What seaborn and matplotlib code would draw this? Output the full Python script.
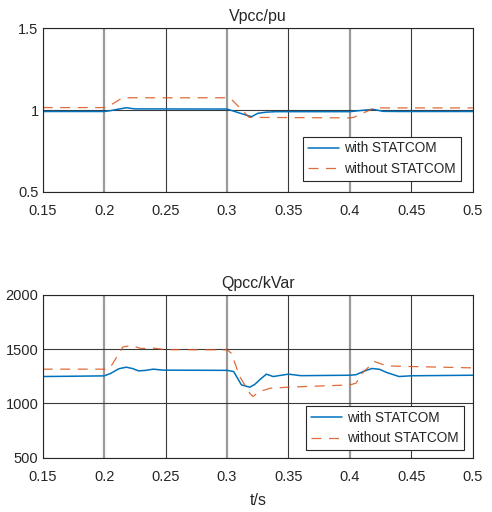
import pandas as pd
import seaborn as sns
import matplotlib.pyplot as plt

# Vpcc (pu)
t_v_with = [0.15, 0.2, 0.205, 0.212, 0.218, 0.225, 0.3, 0.31, 0.32, 0.325, 0.332, 0.34,
            0.4, 0.41, 0.419, 0.427, 0.44, 0.5]
v_with = [0.991, 0.991, 0.996, 1.006, 1.014, 1.007, 1.006, 0.982, 0.959, 0.98, 0.987, 0.99,
          0.99, 0.998, 1.004, 0.992, 0.991, 0.991]
t_v_without = [0.15, 0.2, 0.203, 0.215, 0.3, 0.303, 0.318, 0.4, 0.403, 0.42, 0.5]
v_without = [1.015, 1.015, 1.02, 1.075, 1.075, 1.07, 0.955, 0.952, 0.955, 1.013, 1.013]

# Qpcc (kVar)
t_q_with = [0.15, 0.2, 0.205, 0.212, 0.218, 0.223, 0.228, 0.234, 0.24, 0.248, 0.3, 0.3054,
            0.3117, 0.3185, 0.3225, 0.3266, 0.332, 0.3375, 0.35, 0.36, 0.4, 0.405, 0.412,
            0.418, 0.424, 0.43, 0.44, 0.45, 0.5]
q_with = [1248, 1254, 1275, 1320, 1334, 1322, 1300, 1305, 1316, 1307, 1305, 1294,
          1171, 1150, 1175, 1218, 1270, 1248, 1270, 1256, 1260, 1265, 1300,
          1322, 1315, 1285, 1248, 1255, 1260]
t_q_without = [0.15, 0.2, 0.205, 0.2152, 0.222, 0.23, 0.24, 0.25, 0.3, 0.3035, 0.3103,
               0.3185, 0.321, 0.3266, 0.335, 0.35, 0.4, 0.405, 0.41, 0.42, 0.43, 0.45, 0.5]
q_without = [1316, 1316, 1331, 1520, 1534, 1506, 1510, 1496, 1494, 1463, 1248,
             1094, 1064, 1110, 1140, 1150, 1171, 1187, 1280, 1386, 1346, 1340, 1328]

x_ticks = [0.15, 0.2, 0.25, 0.3, 0.35, 0.4, 0.45, 0.5]
x_tick_labels = ["0.15", "0.2", "0.25", "0.3", "0.35", "0.4", "0.45", "0.5"]
v_ticks = [0.5, 1, 1.5]
v_tick_labels = ["0.5", "1", "1.5"]
q_ticks = [500, 1000, 1500, 2000]

sns.set_style("white")
plt.rcParams['font.family'] = ['Liberation Sans', 'DejaVu Sans']

BLUE = "#0072BD"
ORANGE = "#D95319"
TXT = "#262626"

fig = plt.figure(figsize=(4.92, 5.12), dpi=100)
ax1 = fig.add_axes([0.0868, 0.6256, 0.8742, 0.319])
ax2 = fig.add_axes([0.0868, 0.106, 0.8742, 0.318])


def style(ax):
    ax.set_xlim(0.15, 0.5)
    ax.set_xticks(x_ticks)
    ax.set_xticklabels(x_tick_labels)
    ax.grid(True, color="#3a3a3a", lw=0.8)
    for i, gl in enumerate(ax.get_xgridlines()):
        if x_tick_labels[i] in ("0.2", "0.3", "0.4"):
            gl.set_color("#9a9a9a")
            gl.set_linewidth(1.6)
    for s in ax.spines.values():
        s.set_color(TXT)
        s.set_linewidth(0.8)
    ax.tick_params(direction="in", length=3, labelsize=10.5, colors=TXT)
    ax.tick_params(axis="x", pad=9)
    ax.tick_params(axis="y", pad=3)
    ax.set_xlabel("")
    ax.set_ylabel("")


def legend(ax, anchor):
    leg = ax.legend(loc="lower right", bbox_to_anchor=anchor, borderaxespad=0,
                    fontsize=9.8, fancybox=False, framealpha=1, edgecolor=TXT,
                    handlelength=2.3, borderpad=0.35, labelspacing=0.5,
                    handletextpad=0.4)
    leg.get_frame().set_linewidth(0.8)


sns.lineplot(x=t_v_with, y=v_with, ax=ax1, color=BLUE, lw=1.1, label="with STATCOM")
sns.lineplot(x=t_v_without, y=v_without, ax=ax1, color=ORANGE, lw=0.9, alpha=0.85,
             label="without STATCOM").lines[-1].set_dashes([8, 6])
ax1.set_ylim(0.5, 1.5)
ax1.set_yticks(v_ticks)
ax1.set_yticklabels(v_tick_labels)
style(ax1)
ax1.set_title("Vpcc/pu", fontsize=11.5, color=TXT, pad=5)
legend(ax1, (0.972, 0.066))

sns.lineplot(x=t_q_with, y=q_with, ax=ax2, color=BLUE, lw=1.1, label="with STATCOM")
sns.lineplot(x=t_q_without, y=q_without, ax=ax2, color=ORANGE, lw=0.9, alpha=0.85,
             label="without STATCOM").lines[-1].set_dashes([8, 6])
ax2.set_ylim(500, 2000)
ax2.set_yticks(q_ticks)
style(ax2)
ax2.set_title("Qpcc/kVar", fontsize=11.5, color=TXT, pad=5)
ax2.set_xlabel("t/s", fontsize=11.5, color=TXT, labelpad=6)
legend(ax2, (0.979, 0.047))

plt.savefig("out.png", dpi=100)
